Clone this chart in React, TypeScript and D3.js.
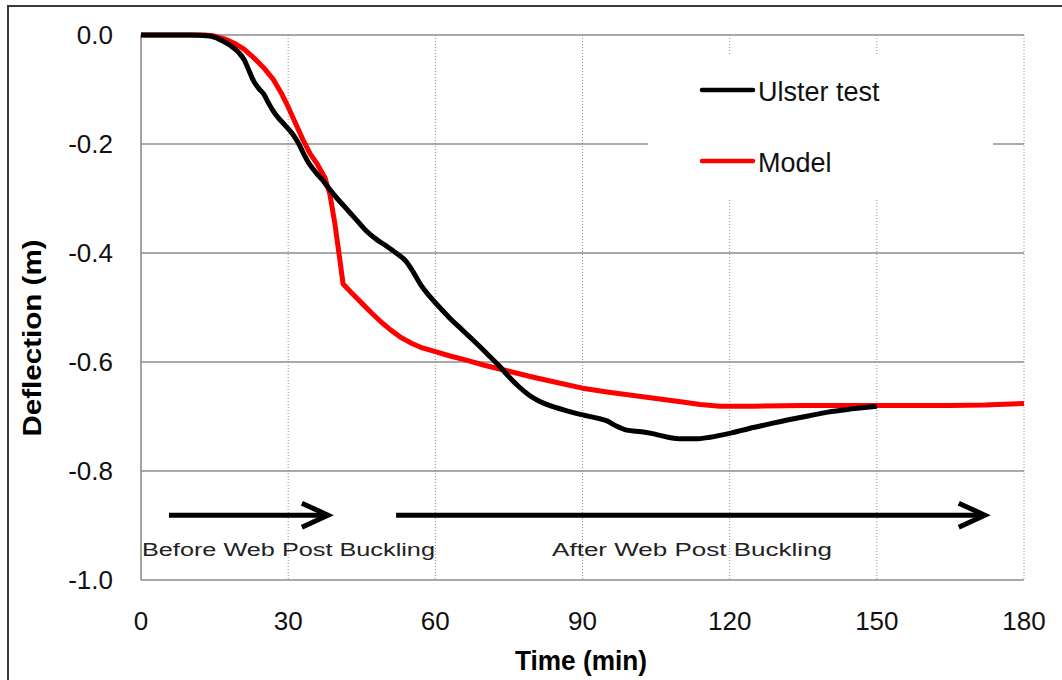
import React from "react";
import * as d3 from "d3";

const xTicks = [0, 30, 60, 90, 120, 150, 180];
const yTicks = [0, -0.2, -0.4, -0.6, -0.8, -1.0];

const testTime = [0, 10, 14, 16, 18, 20, 21, 22, 23, 24, 25, 26, 27, 28, 29, 30, 31, 32, 33, 34, 35, 36, 37, 38, 40, 42, 44, 46, 48, 50, 52, 54, 55.5, 57, 59, 61, 63, 65, 67, 69, 71, 73, 75, 77, 79, 81, 84, 87, 90, 93, 95, 97, 99, 102, 104, 106, 108, 110, 113, 116, 120, 124, 128, 132, 136, 140, 144, 147, 150];
const testDefl = [0, 0, -0.002, -0.008, -0.018, -0.033, -0.045, -0.065, -0.085, -0.098, -0.108, -0.125, -0.14, -0.152, -0.162, -0.172, -0.183, -0.197, -0.215, -0.232, -0.245, -0.256, -0.266, -0.278, -0.3, -0.32, -0.34, -0.36, -0.375, -0.387, -0.4, -0.415, -0.435, -0.458, -0.481, -0.501, -0.52, -0.537, -0.554, -0.571, -0.589, -0.607, -0.627, -0.645, -0.66, -0.671, -0.682, -0.69, -0.697, -0.703, -0.708, -0.718, -0.725, -0.728, -0.731, -0.735, -0.739, -0.741, -0.741, -0.738, -0.731, -0.722, -0.714, -0.706, -0.699, -0.692, -0.687, -0.684, -0.681];

const modelTime = [0, 13, 15, 17, 19, 21, 23, 25, 27, 28.5, 30, 31.5, 33, 34.5, 36, 37.5, 38.5, 39.5, 40.5, 41.2, 43, 45, 47, 49, 51, 53, 55, 57, 60, 63, 66.5, 70, 75, 80, 85, 90, 95, 100, 105, 110, 114, 118, 125, 135, 145, 155, 165, 172, 180];
const modelDefl = [0, 0, -0.002, -0.007, -0.015, -0.026, -0.042, -0.06, -0.082, -0.105, -0.132, -0.162, -0.192, -0.218, -0.238, -0.262, -0.292, -0.345, -0.41, -0.457, -0.474, -0.492, -0.51, -0.527, -0.542, -0.555, -0.565, -0.573, -0.581, -0.589, -0.597, -0.606, -0.617, -0.628, -0.638, -0.648, -0.655, -0.661, -0.667, -0.673, -0.678, -0.681, -0.681, -0.68, -0.68, -0.68, -0.68, -0.679, -0.676];

const seriesNames = ["Ulster test", "Model"];
const seriesColors = ["#000000", "#ff0000"];

// annotation arrows (data units)
const arrowStart = [5.7, 52];
const arrowEnd = [38.1, 172];
const arrowLevel = -0.881;
const phaseLabels = ["Before Web Post Buckling", "After Web Post Buckling"];
const phaseLabelStart = [0.2, 83.8];
const phaseLabelLevel = -0.956;

export default function App() {
  const W = 1062, H = 680;
  const x = d3.scaleLinear().domain([0, 180]).range([141, 1024]);
  const y = d3.scaleLinear().domain([0, -1]).range([35, 580]);

  const line = d3.line<[number, number]>().x(d => x(d[0])).y(d => y(d[1])).curve(d3.curveMonotoneX);
  const lineLin = d3.line<[number, number]>().x(d => x(d[0])).y(d => y(d[1]));
  const testPts = testTime.map((t, i) => [t, testDefl[i]] as [number, number]);
  const modelPts = modelTime.map((t, i) => [t, modelDefl[i]] as [number, number]);

  const font = "'Liberation Sans', Arial, sans-serif";
  const ay = y(arrowLevel);

  return (
    <svg width={W} height={H} style={{ position: "absolute", left: 0, top: 0, background: "#fff" }}>
      <rect x={0} y={0} width={W} height={H} fill="#fff" />
      <rect x={8} y={6} width={W + 20} height={H + 20} fill="none" stroke="#3a3a3a" strokeWidth={2} />

      {/* horizontal grid */}
      {yTicks.map(v => (
        <line key={"h" + v} x1={x(0)} x2={x(180)} y1={y(v)} y2={y(v)} stroke="#8c8c8c" strokeWidth={1.6} />
      ))}
      {/* vertical dotted grid */}
      {xTicks.filter(t => t > 0).map(t => (
        <line key={"v" + t} x1={x(t)} x2={x(t)} y1={y(0)} y2={y(-1)} stroke="#8c8c8c" strokeWidth={1} strokeDasharray="1,2" />
      ))}
      {/* axes */}
      <line x1={x(0)} x2={x(0)} y1={y(0)} y2={y(-1)} stroke="#8c8c8c" strokeWidth={1.6} />

      {/* legend box */}
      <rect x={648} y={55} width={345} height={143} fill="#fff" />

      {/* series */}
      <path d={lineLin(modelPts) || ""} fill="none" stroke={seriesColors[1]} strokeWidth={5} strokeLinejoin="round" />
      <path d={line(testPts) || ""} fill="none" stroke={seriesColors[0]} strokeWidth={5} strokeLinejoin="round" />

      {/* legend */}
      {seriesNames.map((n, i) => (
        <g key={n}>
          <line x1={702} x2={753} y1={90 + i * 71} y2={90 + i * 71} stroke={seriesColors[i]} strokeWidth={4.5} strokeLinecap="round" />
          <text x={758} y={101 + i * 71} fontFamily={font} fontSize={27} fill="#111">{n}</text>
        </g>
      ))}

      {/* arrows */}
      {arrowStart.map((s, i) => {
        const x1 = x(s), x2 = x(arrowEnd[i]);
        return (
          <g key={"a" + i} stroke="#000" fill="none" strokeWidth={5}>
            <line x1={x1} x2={x2 - 2} y1={ay} y2={ay} />
            <polyline points={`${x2 - 26},${ay - 12} ${x2},${ay} ${x2 - 26},${ay + 12}`} strokeLinejoin="miter" />
          </g>
        );
      })}
      {phaseLabels.map((l, i) => (
        <text key={l} x={x(phaseLabelStart[i])} y={y(phaseLabelLevel)} fontFamily={font} fontSize={18} fill="#222"
          textLength={i === 0 ? 293 : 280} lengthAdjust="spacingAndGlyphs">{l}</text>
      ))}

      {/* tick labels */}
      {yTicks.map(v => (
        <text key={"yl" + v} x={113} y={y(v)} dy="0.36em" textAnchor="end" fontFamily={font} fontSize={26} fill="#111">
          {d3.format(".1f")(v).replace("−", "-")}
        </text>
      ))}
      {xTicks.map(t => (
        <text key={"xl" + t} x={x(t)} y={630} textAnchor="middle" fontFamily={font} fontSize={26} fill="#111">{t}</text>
      ))}

      {/* axis titles */}
      <text x={581} y={670} textAnchor="middle" fontFamily={font} fontWeight="bold" fontSize={27} fill="#000" textLength={132} lengthAdjust="spacingAndGlyphs">Time (min)</text>
      <text transform={`translate(41,338) rotate(-90)`} textAnchor="middle" fontFamily={font} fontWeight="bold" fontSize={26} fill="#000" textLength={197} lengthAdjust="spacingAndGlyphs">Deflection  (m)</text>
    </svg>
  );
}
